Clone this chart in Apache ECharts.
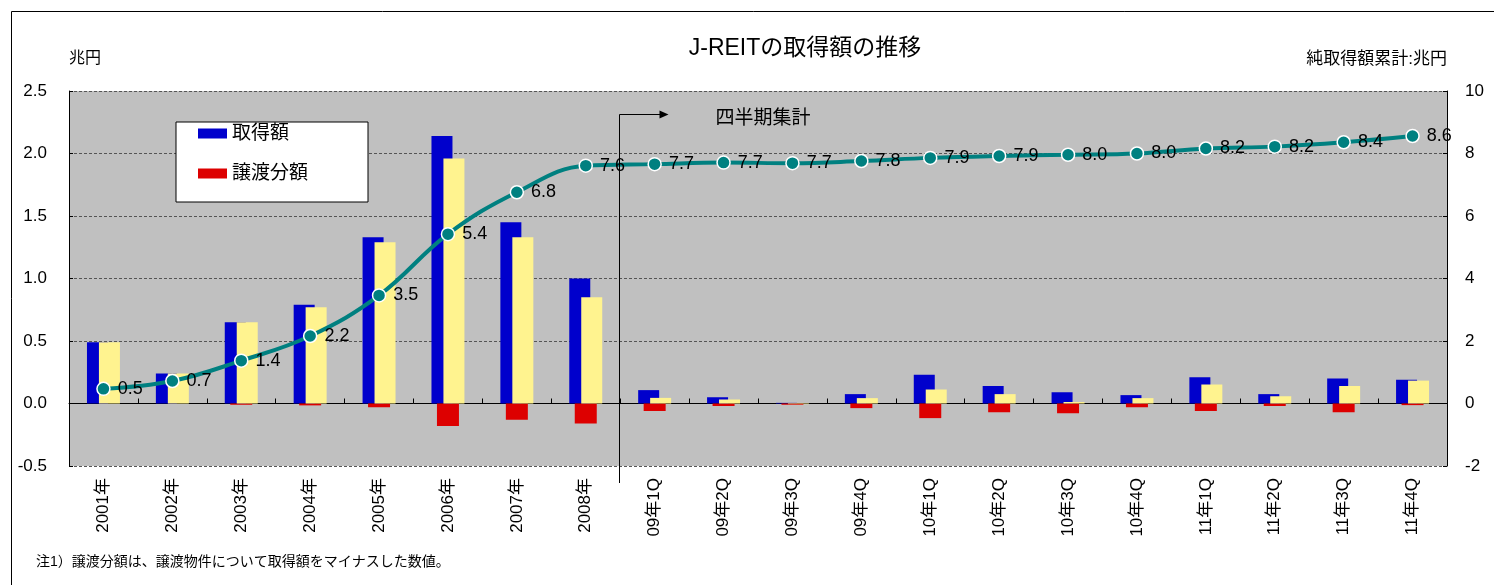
<!DOCTYPE html>
<html><head><meta charset="utf-8">
<script src="https://cdn.jsdelivr.net/npm/echarts@6/dist/echarts.min.js"></script>
<style>html,body{margin:0;padding:0;background:#fff}#c{width:1494px;height:585px}</style>
</head><body><div id="c"></div>
<script>
const categories = ['2001年','2002年','2003年','2004年','2005年','2006年','2007年','2008年',
  '09年1Q','09年2Q','09年3Q','09年4Q','10年1Q','10年2Q','10年3Q','10年4Q',
  '11年1Q','11年2Q','11年3Q','11年4Q'];
// 取得額 (兆円)
const acquisition = [0.49,0.24,0.65,0.79,1.33,2.14,1.45,1.00,
  0.107,0.05,0.005,0.075,0.23,0.14,0.09,0.067,0.21,0.075,0.20,0.19];
// 純取得額 (yellow, 兆円)
const netAcquisition = [0.49,0.24,0.65,0.77,1.29,1.96,1.33,0.85,
  0.045,0.032,-0.005,0.043,0.112,0.075,0.012,0.043,0.152,0.058,0.14,0.183];
// 譲渡分額 (兆円)
const transfer = [0,0,-0.01,-0.015,-0.03,-0.18,-0.13,-0.16,
  -0.06,-0.02,-0.01,-0.037,-0.117,-0.07,-0.078,-0.03,-0.06,-0.02,-0.07,-0.013];
// 純取得額累計 (兆円)
const cumulative = [0.47,0.72,1.37,2.16,3.46,5.42,6.76,7.61,
  7.66,7.71,7.69,7.76,7.86,7.92,7.96,8.0,8.16,8.22,8.36,8.56];
const leftAxisRange = {min:-0.5, max:2.5, interval:0.5};
const rightAxisRange = {min:-2, max:10, interval:2};

const FONT = '"Liberation Sans","Noto Sans CJK JP",sans-serif';
const chart = echarts.init(document.getElementById('c'), null, {renderer:'canvas'});
chart.setOption({
  animation:false,
  backgroundColor:'#fff',
  textStyle:{fontFamily:FONT, color:'#000'},
  title:{text:'J-REITの取得額の推移', left:800, top:32, textAlign:'center',
    textStyle:{fontSize:23, fontWeight:'normal', color:'#000', fontFamily:FONT}},
  legend:{data:['取得額','譲渡分額'], orient:'vertical', left:176, top:122,
    backgroundColor:'#fff', borderColor:'#000', borderWidth:1, borderRadius:0,
    padding:[2,60,19,22], itemGap:21, itemWidth:29, itemHeight:10, icon:'rect',
    textStyle:{fontSize:19, color:'#000', fontFamily:FONT}},
  grid:{left:69, right:47, top:91, bottom:119, show:true, backgroundColor:'#C0C0C0', borderWidth:0, containLabel:false},
  xAxis:[
    {type:'category', data:categories, position:'bottom',
     axisLine:{show:false, onZero:false}, axisTick:{show:false}, splitLine:{show:false},
     axisLabel:{rotate:90, margin:12, fontSize:17, color:'#000', interval:0}},
    {type:'category', data:categories, position:'top',
     axisLine:{show:true, onZero:true, lineStyle:{color:'#000', width:1}},
     axisTick:{show:true, inside:false, length:5, lineStyle:{color:'#000'}},
     axisLabel:{show:false}, splitLine:{show:false}},
    {type:'category', data:categories, show:false}
  ],
  yAxis:[
    {type:'value', min:leftAxisRange.min, max:leftAxisRange.max, interval:leftAxisRange.interval,
     name:'兆円', nameLocation:'end', nameGap:32,
     nameTextStyle:{align:'left', verticalAlign:'middle', fontSize:16, color:'#000'},
     axisLine:{show:true, lineStyle:{color:'#000'}},
     axisTick:{show:true, inside:true, length:4, lineStyle:{color:'#000'}},
     axisLabel:{margin:22, fontSize:17, color:'#000', formatter:v=>v.toFixed(1)},
     splitLine:{show:true, lineStyle:{color:'#555', type:[3,2], width:1}}},
    {type:'value', min:rightAxisRange.min, max:rightAxisRange.max, interval:rightAxisRange.interval,
     position:'right',
     name:'純取得額累計:兆円', nameLocation:'end', nameGap:32,
     nameTextStyle:{align:'right', verticalAlign:'middle', fontSize:17, color:'#000'},
     axisLine:{show:true, lineStyle:{color:'#000'}},
     axisTick:{show:true, inside:true, length:4, lineStyle:{color:'#000'}},
     axisLabel:{margin:18, fontSize:17, color:'#000'},
     splitLine:{show:false}}
  ],
  series:[
    {name:'取得額', type:'bar', xAxisIndex:0, yAxisIndex:0, data:acquisition,
     barWidth:21, barGap:'-43%', itemStyle:{color:'#0000CC'}, z:2},
    {name:'純取得額', type:'bar', xAxisIndex:0, yAxisIndex:0, data:netAcquisition,
     barWidth:21, barGap:'-43%', itemStyle:{color:'#FFF38F'}, z:3},
    {name:'譲渡分額', type:'bar', xAxisIndex:2, yAxisIndex:0, data:transfer,
     barWidth:22, itemStyle:{color:'#DD0000'}, z:2},
    {name:'純取得額累計', type:'line', xAxisIndex:0, yAxisIndex:1, data:cumulative,
     smooth:0.4, symbol:'circle', symbolSize:13, z:5,
     lineStyle:{color:'#008080', width:4},
     itemStyle:{color:'#008080', borderColor:'#fff', borderWidth:1.5},
     label:{show:true, position:'right', distance:7, fontSize:18, color:'#000',
       formatter:p=>p.value.toFixed(1)}}
  ]
});

const xa = chart.convertToPixel({xAxisIndex:0}, 7);
const xb = chart.convertToPixel({xAxisIndex:0}, 8);
const divX = Math.round((xa + xb) / 2) - 0.5;
const yTop = Math.round(chart.convertToPixel({yAxisIndex:0}, 2.32)) + 0.5;
const yBot = chart.convertToPixel({yAxisIndex:0}, leftAxisRange.min) + 17;
chart.setOption({
  graphic:[
    {type:'rect', id:'frame', silent:true, z:100,
     shape:{x:11.5, y:11.5, width:2000, height:2000},
     style:{fill:'none', stroke:'#000', lineWidth:1}},
    {type:'polyline', id:'divider', silent:true, z:100,
     shape:{points:[[divX, yBot],[divX, yTop],[divX+42, yTop]]},
     style:{stroke:'#000', lineWidth:1, fill:null}},
    {type:'polygon', id:'arrowhead', silent:true, z:100,
     shape:{points:[[divX+40, yTop-4],[divX+49, yTop],[divX+40, yTop+4]]},
     style:{fill:'#000'}},
    {type:'text', id:'qlabel', silent:true, z:100, x:divX+96, y:yTop+4,
     style:{text:'四半期集計', fontSize:19, fontFamily:FONT, fill:'#000', verticalAlign:'middle'}},
    {type:'text', id:'note', silent:true, z:100, x:36, y:562,
     style:{text:'注1）譲渡分額は、譲渡物件について取得額をマイナスした数値。', fontSize:14, fontFamily:FONT, fill:'#000', verticalAlign:'middle'}}
  ]
});
</script></body></html>
